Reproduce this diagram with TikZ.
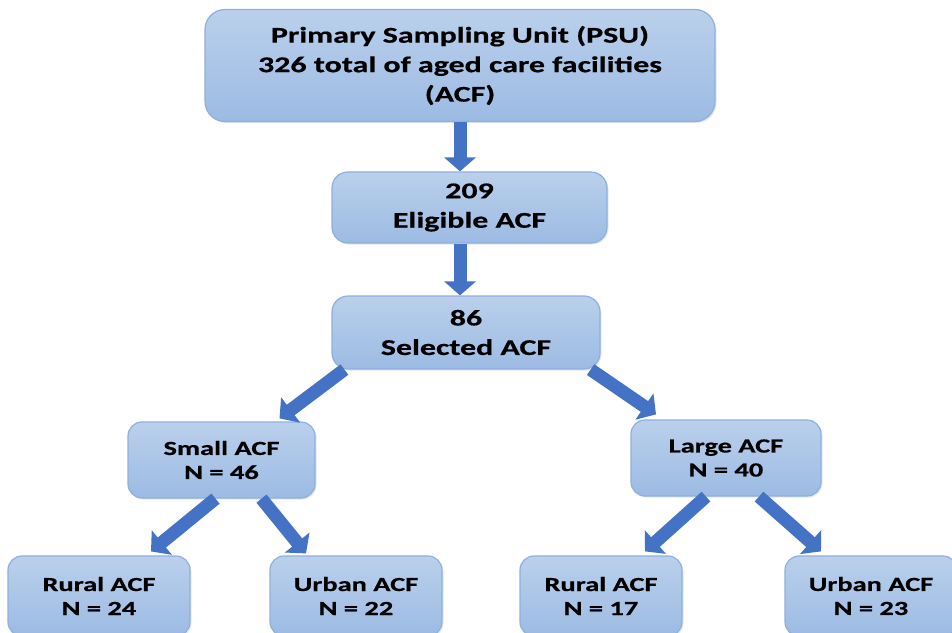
\documentclass[tikz,border=0pt]{standalone}
\usepackage{fontspec}
\setmainfont{Carlito}[FakeStretch=1.42,BoldFeatures={FakeBold=0.6}]
\usetikzlibrary{arrows.meta,shadows}
\definecolor{boxtop}{HTML}{BAD0EC}
\definecolor{boxbot}{HTML}{9CBBE3}
\definecolor{boxline}{HTML}{8EB0DD}
\definecolor{arrowblue}{HTML}{4472C4}
\tikzset{
  box/.style={draw=boxline, line width=1.2pt, rounded corners=16pt,
    top color=boxtop, bottom color=boxbot, align=center, inner sep=0pt,
    drop shadow={opacity=0.18, shadow xshift=1.5pt, shadow yshift=-1.5pt},
    font=\fontsize{22.5}{29.5}\selectfont\bfseries},
  smallbox/.style={box, rounded corners=14pt, font=\fontsize{20}{24}\selectfont\bfseries},
  bigarrow/.style={draw=arrowblue, line width=13pt,
    -{Triangle[width=31pt,length=14pt,fill=arrowblue]}}
}
\begin{document}
\begin{tikzpicture}[x=1pt,y=-1pt]
\useasboundingbox (0,0) rectangle (952,632);
\clip (0,0) rectangle (952,632);
\fill[white] (0,0) rectangle (952,632);
\node[box, rounded corners=20pt, minimum width=510pt, minimum height=112pt] (psu) at (460,65.5)
  {Primary Sampling Unit (PSU)\\326 total of aged care facilities\\(ACF)};
\node[box, minimum width=275pt, minimum height=71pt] (elig) at (469.5,207.5)
  {209\\Eligible ACF};
\node[box, minimum width=268pt, minimum height=73pt] (sel) at (466,332.5)
  {86\\Selected ACF};
\node[smallbox, minimum width=187pt, minimum height=76pt] (small) at (221.5,460)
  {Small ACF\\N = 46};
\node[smallbox, minimum width=190pt, minimum height=76pt] (large) at (726,458)
  {Large ACF\\N = 40};
\node[smallbox, minimum width=182pt, minimum height=80pt] (r1) at (99,596)
  {Rural ACF\\N = 24};
\node[smallbox, minimum width=172pt, minimum height=80pt] (u1) at (356,596)
  {Urban ACF\\N = 22};
\node[smallbox, minimum width=162pt, minimum height=80pt] (r2) at (601,596)
  {Rural ACF\\N = 17};
\node[smallbox, minimum width=172pt, minimum height=80pt] (u2) at (871,596)
  {Urban ACF\\N = 23};
% arrows
\draw[bigarrow] (psu.south) -- (psu.south |- elig.north);
\draw[bigarrow] ([xshift=-9.5pt]elig.south) -- ([xshift=-9.5pt]elig.south |- sel.north);
\draw[bigarrow] ([xshift=13pt]sel.south west) -- ([xshift=58pt,yshift=3pt]small.north);
\draw[bigarrow] ([xshift=-10pt]sel.south east) -- ([xshift=-70pt,yshift=5pt]large.north);
\draw[bigarrow] ([xshift=-6pt]small.south) -- ([xshift=52pt,yshift=4pt]r1.north);
\draw[bigarrow] ([xshift=40pt]small.south) -- ([xshift=-50pt,yshift=2pt]u1.north);
\draw[bigarrow] ([xshift=-20pt]large.south) -- ([xshift=44pt,yshift=4pt]r2.north);
\draw[bigarrow] ([xshift=33pt]large.south) -- ([xshift=-50pt,yshift=4pt]u2.north);
\end{tikzpicture}
\end{document}
